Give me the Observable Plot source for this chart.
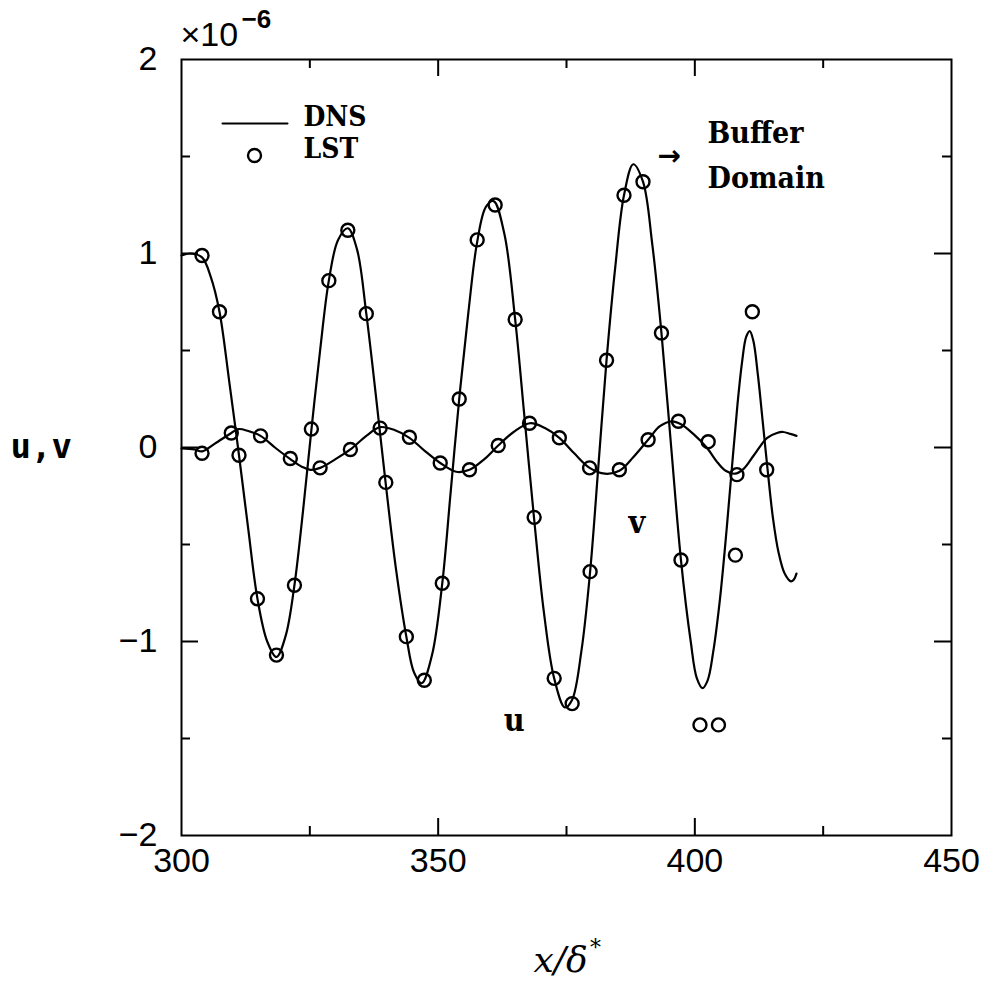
<!DOCTYPE html>
<html><head><meta charset="utf-8">
<script src="https://cdn.jsdelivr.net/npm/d3@7"></script>
<script src="https://cdn.jsdelivr.net/npm/@observablehq/plot@0.6"></script>
<style>
body{margin:0;background:#fff}
#chart{width:993px;height:985px}
</style>
</head><body><div id="chart"></div>
<script>
// DNS u (x/δ*, value ×1e-6)
const dnsU = [
[300.0,0.99],[301.8,1.00],[304.0,0.98],[305.7,0.88],[307.4,0.70],[309.3,0.34],[311.2,-0.04],
[313.0,-0.42],[314.8,-0.78],[316.7,-1.00],[318.5,-1.08],[320.3,-0.97],[322.0,-0.71],[323.7,-0.32],
[325.3,0.09],[327.0,0.50],[328.7,0.86],[330.5,1.07],[332.4,1.13],[334.2,1.02],[336.0,0.69],
[337.9,0.26],[339.8,-0.19],[341.8,-0.63],[343.8,-0.975],[345.3,-1.16],[346.8,-1.215],[348.8,-1.07],
[350.8,-0.70],[352.4,-0.24],[354.1,0.25],[355.9,0.70],[357.6,1.06],[359.3,1.24],[360.8,1.27],
[362.9,1.10],[365.0,0.66],[366.8,0.16],[368.7,-0.37],[370.6,-0.85],[372.6,-1.19],[374.7,-1.34],
[376.1,-1.30],[377.9,-1.05],[379.6,-0.64],[381.2,-0.10],[382.8,0.45],[384.5,0.93],[386.2,1.30],
[388.0,1.46],[389.9,1.37],[391.7,1.05],[393.5,0.59],[395.4,0.00],[397.3,-0.58],[399.2,-1.00],
[400.4,-1.19],[401.5,-1.24],[402.5,-1.20],[403.6,-1.05],[404.9,-0.78],[406.2,-0.42],[407.3,-0.08],
[408.3,0.22],[409.2,0.44],[410.0,0.57],[410.7,0.60],[411.4,0.55],[412.3,0.37],[413.2,0.14],
[414.2,-0.12],[415.2,-0.36],[416.3,-0.54],[417.5,-0.65],[418.7,-0.69],[419.3,-0.68],[419.8,-0.65]
];
// DNS v
const dnsV = [
[300.0,-0.005],[302.5,-0.01],[304.0,-0.02],[306.5,0.02],[309.7,0.075],[311.1,0.095],[313.0,0.085],
[315.4,0.06],[318.2,0.0],[321.2,-0.06],[323.5,-0.10],[325.1,-0.115],[327.0,-0.105],[330.0,-0.06],
[332.9,-0.01],[336.0,0.06],[338.7,0.105],[341.5,0.09],[344.4,0.05],[347.5,-0.02],[350.4,-0.08],
[353.5,-0.125],[356.1,-0.115],[359.0,-0.06],[361.7,0.01],[364.7,0.08],[367.9,0.125],[370.8,0.10],
[373.6,0.05],[376.5,-0.03],[379.5,-0.105],[382.5,-0.135],[385.3,-0.12],[388.0,-0.05],[390.9,0.04],
[393.2,0.11],[395.5,0.135],[397.3,0.12],[399.7,0.07],[402.3,0.0],[404.5,-0.08],[406.0,-0.12],
[407.8,-0.135],[409.5,-0.11],[411.5,-0.04],[414.1,0.05],[416.0,0.075],[417.2,0.08],[418.6,0.07],[419.8,0.06]
];
// LST u
const lstU = [
[304.0,0.99],[307.4,0.70],[311.2,-0.04],[314.8,-0.78],[318.5,-1.07],[322.0,-0.71],[325.3,0.095],
[328.7,0.86],[332.4,1.12],[336.0,0.69],[339.8,-0.18],[343.8,-0.975],[347.3,-1.20],[350.8,-0.70],
[354.1,0.25],[357.6,1.07],[361.1,1.25],[365.0,0.66],[368.7,-0.36],[372.6,-1.19],[376.1,-1.32],
[379.6,-0.64],[382.8,0.45],[386.2,1.30],[389.9,1.37],[393.5,0.59],[397.3,-0.58],[401.0,-1.43],
[404.6,-1.43],[407.9,-0.555],[411.2,0.70]
];
// LST v
const lstV = [
[304.0,-0.03],[309.7,0.075],[315.4,0.06],[321.2,-0.057],[327.0,-0.105],[332.9,-0.01],[338.7,0.10],
[344.4,0.053],[350.4,-0.08],[356.1,-0.115],[361.7,0.01],[367.8,0.125],[373.6,0.05],[379.5,-0.105],
[385.3,-0.115],[390.9,0.04],[396.8,0.135],[402.6,0.03],[408.2,-0.14],[414.0,-0.115]
];
const xLabels = [300, 350, 400, 450];
const yLabels = [-2, -1, 0, 1, 2];
const xMajor = [350, 400];
const xMinor = [325, 375, 425];
const yMajor = [-1, 0, 1];
const yMinor = [-1.5, -0.5, 0.5, 1.5];
const seriesLabels = [{name: "u", x: 364.8, y: -1.41}, {name: "v", x: 388.7, y: -0.39}];

const W = 993, H = 985, mL = 181, mR = 42, mT = 59, mB = 150;
const iW = W - mL - mR, iH = H - mT - mB;
const serif = "'DejaVu Serif Condensed', 'DejaVu Serif', serif";
const lineShape = {draw(ctx, l) { ctx.moveTo(0, 0); ctx.lineTo(0, -l); }};
const fmt = d => d < 0 ? "\u2212" + (-d) : String(d);

const chart = Plot.plot({
  width: W, height: H,
  marginLeft: mL, marginRight: mR, marginTop: mT, marginBottom: mB,
  x: {domain: [300, 450]},
  y: {domain: [-2, 2]},
  style: {fontFamily: "'Liberation Sans', Arial, sans-serif", color: "black", background: "white", overflow: "visible"},
  marks: [
    Plot.frame({stroke: "black", strokeWidth: 2}),
    // inward ticks
    Plot.tickX(xMajor, {x: d => d, insetTop: iH - 17, strokeWidth: 2}),
    Plot.tickX(xMajor, {x: d => d, insetBottom: iH - 17, strokeWidth: 2}),
    Plot.tickX(xMinor, {x: d => d, insetTop: iH - 9, strokeWidth: 2}),
    Plot.tickX(xMinor, {x: d => d, insetBottom: iH - 9, strokeWidth: 2}),
    Plot.tickY(yMajor, {y: d => d, insetRight: iW - 17, strokeWidth: 2}),
    Plot.tickY(yMajor, {y: d => d, insetLeft: iW - 17, strokeWidth: 2}),
    Plot.tickY(yMinor, {y: d => d, insetRight: iW - 9, strokeWidth: 2}),
    Plot.tickY(yMinor, {y: d => d, insetLeft: iW - 9, strokeWidth: 2}),
    Plot.axisX(xLabels, {tickSize: 0, tickPadding: 12, fontSize: 34, label: null, tickFormat: fmt}),
    Plot.axisY(yLabels, {tickSize: 0, tickPadding: 24, fontSize: 34, label: null, tickFormat: fmt}),
    // curves
    Plot.line(dnsU, {x: d => d[0], y: d => d[1], curve: "catmull-rom", stroke: "black", strokeWidth: 2.2}),
    Plot.line(dnsV, {x: d => d[0], y: d => d[1], curve: "catmull-rom", stroke: "black", strokeWidth: 2.2}),
    Plot.dot(lstU, {x: d => d[0], y: d => d[1], r: 6.5, stroke: "black", strokeWidth: 2.4, fill: "none"}),
    Plot.dot(lstV, {x: d => d[0], y: d => d[1], r: 6.5, stroke: "black", strokeWidth: 2.4, fill: "none"}),
    // series labels
    Plot.text(seriesLabels, {x: "x", y: "y", text: "name", fontFamily: serif, fontWeight: "bold", fontSize: 32}),
    // legend
    Plot.vector([0], {frameAnchor: "top-left", dx: 41, dy: 64, rotate: 90, length: 65, anchor: "start", shape: lineShape, strokeWidth: 2, stroke: "black"}),
    Plot.dot([0], {frameAnchor: "top-left", dx: 73, dy: 96, r: 6.5, stroke: "black", strokeWidth: 2.4, fill: "none"}),
    Plot.text(["DNS"], {frameAnchor: "top-left", dx: 122, dy: 66, textAnchor: "start", lineAnchor: "bottom", fontFamily: serif, fontWeight: "bold", fontSize: 28}),
    Plot.text(["LST"], {frameAnchor: "top-left", dx: 122, dy: 98, textAnchor: "start", lineAnchor: "bottom", fontFamily: serif, fontWeight: "bold", fontSize: 28}),
    // buffer domain
    Plot.text(["→"], {frameAnchor: "top-left", dx: 476, dy: 97, textAnchor: "start", lineAnchor: "middle", fontFamily: "'DejaVu Sans'", fontWeight: "bold", fontSize: 28}),
    Plot.text(["Buffer"], {frameAnchor: "top-left", dx: 526, dy: 83, textAnchor: "start", lineAnchor: "bottom", fontFamily: serif, fontWeight: "bold", fontSize: 30}),
    Plot.text(["Domain"], {frameAnchor: "top-left", dx: 526, dy: 128, textAnchor: "start", lineAnchor: "bottom", fontFamily: serif, fontWeight: "bold", fontSize: 30}),
    // exponent
    Plot.text(["×10"], {frameAnchor: "top-left", dx: -1, dy: -14, textAnchor: "start", lineAnchor: "bottom", fontSize: 34}),
    Plot.text(["−6"], {frameAnchor: "top-left", dx: 60, dy: -32, textAnchor: "start", lineAnchor: "bottom", fontSize: 26, fontWeight: "bold"}),
    // axis titles
    Plot.text(["u,v"], {frameAnchor: "left", dx: -171, textAnchor: "start", lineAnchor: "middle", fontFamily: "'DejaVu Sans Mono', monospace", fontWeight: "bold", fontSize: 34}),
    Plot.text(["x/δ"], {frameAnchor: "bottom", dx: -6, dy: 125, lineAnchor: "middle", fontFamily: "'DejaVu Serif', serif", fontStyle: "italic", fontSize: 36}),
    Plot.text(["*"], {frameAnchor: "bottom", dx: 29, dy: 112, lineAnchor: "middle", fontFamily: "'DejaVu Serif', serif", fontSize: 22})
  ]
});
document.getElementById("chart").append(chart);
</script>
</body></html>
